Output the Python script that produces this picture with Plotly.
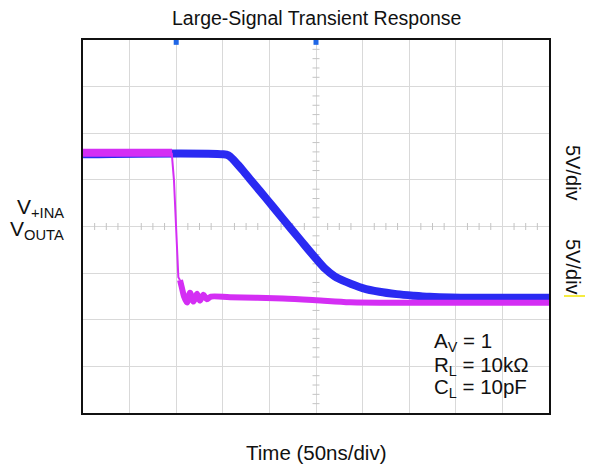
import numpy as np
import plotly.graph_objects as go

# ---- data (time in ns, voltage in V; 50 ns/div, 5 V/div) ----
blue_t = [0, 150, 156, 161, 166, 172, 179, 197, 214.6, 232.8, 250, 260, 270, 283, 300, 318, 336.6, 355, 372, 395, 420, 500]
blue_v = [7.75, 7.75, 7.62, 7.2, 6.65, 5.95, 5.1, 2.95, 0.8, -1.4, -3.45, -4.55, -5.35, -5.97, -6.6, -7.0, -7.25, -7.42, -7.54, -7.62, -7.65, -7.65]

mag_top_t = [0, 95.6]
mag_top_v = [7.9, 7.9]
mag_edge_t = [95.2, 97.6, 102.3, 104.1]
mag_edge_v = [7.9, 4.98, -5.43, -5.75]
mag_bot_t = [104.1, 106.2, 108.4, 111.6, 114.8, 118.6, 122.3, 125.5, 129.3, 133.0, 137.3, 157.7, 214.6, 250, 286.5, 350, 500]
mag_bot_v = [-5.75, -6.61, -7.5, -8.15, -7.1, -8.05, -7.2, -7.95, -7.33, -7.8, -7.52, -7.58, -7.72, -7.9, -8.12, -8.17, -8.17]

trig_t = [100, 250]

BLUE = "#2a2af2"
MAG = "#d42ef4"
GRID = "#d9d9d9"
FONT = "Liberation Sans, Arial, sans-serif"

X0, X1 = 0, 500
Y0, Y1 = -20, 20

# page geometry (the figure is placed 8px in from the page corner)
PL, PR, PT, PB = 83, 549, 40, 413


def px(xp):
    return (xp - PL) / (PR - PL)


def py(yp):
    return (PB - yp) / (PB - PT)


fig = go.Figure()

# minor ticks on the centre lines
xt = [x for x in np.arange(X0, X1 + 0.1, 12.5) if x % 50 != 0]
yt = [y for y in np.arange(Y0, Y1 + 0.1, 1.0) if y % 5 != 0]
fig.add_trace(go.Scatter(x=xt, y=[0] * len(xt), mode="markers",
                         marker=dict(symbol="line-ns", size=5, line=dict(width=1, color="#c4c4c4")),
                         hoverinfo="skip", showlegend=False))
fig.add_trace(go.Scatter(x=[250] * len(yt), y=yt, mode="markers",
                         marker=dict(symbol="line-ew", size=5, line=dict(width=1, color="#c4c4c4")),
                         hoverinfo="skip", showlegend=False))

# blue output trace
fig.add_trace(go.Scatter(x=blue_t, y=blue_v, mode="lines",
                         line=dict(color=BLUE, width=8, shape="spline", smoothing=1.0),
                         showlegend=False))
# magenta input trace
fig.add_trace(go.Scatter(x=mag_top_t, y=mag_top_v, mode="lines", line=dict(color=MAG, width=8), showlegend=False))
fig.add_trace(go.Scatter(x=mag_edge_t, y=mag_edge_v, mode="lines", line=dict(color=MAG, width=2), showlegend=False))
fig.add_trace(go.Scatter(x=mag_bot_t, y=mag_bot_v, mode="lines",
                         line=dict(color=MAG, width=6, shape="spline", smoothing=0.8), showlegend=False))

# trigger markers at top and ground marker at left
fig.add_trace(go.Scatter(x=trig_t, y=[19.75, 19.75], mode="markers", cliponaxis=False,
                         marker=dict(symbol="square", size=5, color="#1f66e6"), showlegend=False))
fig.add_trace(go.Scatter(x=[-3], y=[0], mode="markers", cliponaxis=False,
                         marker=dict(symbol="triangle-right", size=6, color=MAG), showlegend=False))

fig.update_xaxes(range=[X0, X1], dtick=50, tick0=0, showgrid=True, gridcolor=GRID, gridwidth=1,
                 zeroline=False, showticklabels=False, ticks="",
                 showline=True, linecolor="#111111", linewidth=2, mirror=True)
fig.update_yaxes(range=[Y0, Y1], dtick=5, tick0=0, showgrid=True, gridcolor=GRID, gridwidth=1,
                 zeroline=False, showticklabels=False, ticks="",
                 showline=True, linecolor="#111111", linewidth=2, mirror=True)


def A(text, x, y, size, xa="center", ya="middle", angle=0):
    return dict(text=text, xref="paper", yref="paper", x=x, y=y, xanchor=xa, yanchor=ya,
                textangle=angle, showarrow=False, font=dict(size=size, color="#111"))


ann = [
    A("Large-Signal Transient Response", px(316.5), py(18), 19.5),
    A("Time (50ns/div)", px(316), py(452), 20.5),
    A("V<sub>+INA</sub>", px(66), py(208), 21, xa="right"),
    A("V<sub>OUTA</sub>", px(66), py(230), 21, xa="right"),
    A("5V/div", px(573), py(173), 20, angle=90),
    A("5V/div", px(573), py(267), 20, angle=90),
]
box_lines = ["A<sub>V</sub> = 1", "R<sub>L</sub> = 10kΩ", "C<sub>L</sub> = 10pF"]
box_y = [342, 366, 388]
for t, yv in zip(box_lines, box_y):
    ann.append(A(t, px(432), py(yv), 20.5, xa="left"))

fig.update_layout(
    width=585, height=461,
    margin=dict(l=PL - 8, r=593 - PR, t=PT - 8, b=469 - PB),
    paper_bgcolor="white", plot_bgcolor="white",
    font=dict(family=FONT, color="#111"),
    annotations=ann,
    shapes=[dict(type="line", xref="paper", yref="paper", x0=px(564), x1=px(588),
                 y0=py(296), y1=py(296), line=dict(color="#f2e600", width=1.5))],
)

fig.write_html("out.html")
